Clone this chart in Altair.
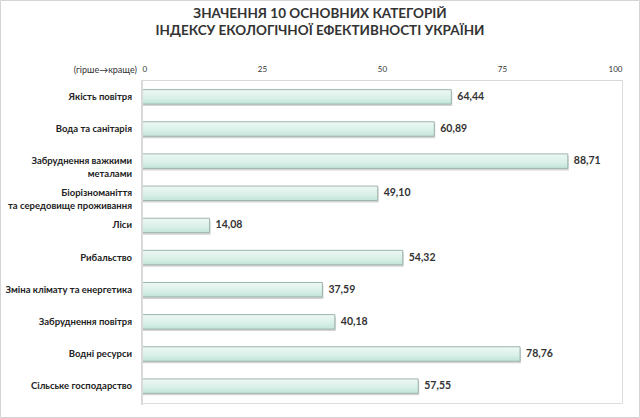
import altair as alt
import pandas as pd

categories = [
    "Якість повітря",
    "Вода та санітарія",
    "Забруднення важкими металами",
    "Біорізноманіття та середовище проживання",
    "Ліси",
    "Рибальство",
    "Зміна клімату та енергетика",
    "Забруднення повітря",
    "Водні ресурси",
    "Сільське господарство",
]
label_lines = [
    ["Якість повітря"],
    ["Вода та санітарія"],
    ["Забруднення важкими", "металами"],
    ["Біорізноманіття", "та середовище проживання"],
    ["Ліси"],
    ["Рибальство"],
    ["Зміна клімату та енергетика"],
    ["Забруднення повітря"],
    ["Водні ресурси"],
    ["Сільське господарство"],
]
values = [64.44, 60.89, 88.71, 49.10, 14.08, 54.32, 37.59, 40.18, 78.76, 57.55]
tick_values = [0, 25, 50, 75, 100]
title_lines = ["ЗНАЧЕННЯ 10 ОСНОВНИХ КАТЕГОРІЙ", "ІНДЕКСУ ЕКОЛОГІЧНОЇ ЕФЕКТИВНОСТІ УКРАЇНИ"]

df = pd.DataFrame({
    "cat": categories,
    "val": values,
    "lbl": [f"{v:.2f}".replace(".", ",") for v in values],
    "lines": label_lines,
})

FONT = "Lato"

x_axis = alt.Axis(
    orient="top", values=tick_values, ticks=False, grid=False,
    domain=True, domainColor="#d9d9d9", labelFont=FONT,
    labelFontSize=8, labelColor="#333333", labelPadding=7,
    title=None,
)
x_scale = alt.Scale(domain=[0, 100], nice=False)
x_enc = alt.X("val:Q", scale=x_scale, axis=x_axis)

y_enc = alt.Y(
    "cat:N",
    sort=categories,
    scale=alt.Scale(paddingInner=0.55, paddingOuter=0.3),
    axis=None,
)

grad = alt.Gradient(
    gradient="linear",
    x1=0, x2=0, y1=0, y2=1,
    stops=[
        alt.GradientStop(color="#eef8f4", offset=0),
        alt.GradientStop(color="#d8f0e7", offset=0.6),
        alt.GradientStop(color="#c3e4d8", offset=1),
    ],
)

shadow = alt.Chart(df).mark_bar(
    fill="#d4d4d4", yOffset=2, xOffset=1
).encode(x=x_enc, y=y_enc)

bars = alt.Chart(df).mark_bar(
    fill=grad, stroke="#9db5ad", strokeWidth=1
).encode(x=x_enc, y=y_enc)

val_text = alt.Chart(df).mark_text(
    align="left", baseline="middle", dx=6, fontSize=10.5,
    fontWeight="bold", font=FONT, color="#333333",
).encode(x=x_enc, y=y_enc, text="lbl:N")

cat_text = alt.Chart(df).mark_text(
    align="right", baseline="middle", fontSize=9.5, fontWeight="bold",
    font=FONT, color="#222222", lineHeight=13,
).encode(x=alt.value(-10), y=y_enc, text="lines")

left_axis = alt.Chart(df).mark_rule(color="#d9d9d9").encode(
    x=alt.value(0), y=alt.value(0), y2=alt.value(325)
)

dir_text = alt.Chart(pd.DataFrame({"t": ["(гірше→краще)"]})).mark_text(
    align="right", baseline="middle", fontSize=9, font=FONT, color="#333333",
).encode(x=alt.value(-5), y=alt.value(-10), text="t:N")

title1 = alt.Chart(pd.DataFrame({"t": [title_lines[0]]})).mark_text(
    align="center", baseline="middle", fontSize=13.5, fontWeight="bold",
    font=FONT, color="#333333",
).encode(x=alt.value(178), y=alt.value(-66), text="t:N")

title2 = alt.Chart(pd.DataFrame({"t": [title_lines[1]]})).mark_text(
    align="center", baseline="middle", fontSize=13.5, fontWeight="bold",
    font=FONT, color="#333333",
).encode(x=alt.value(178), y=alt.value(-49), text="t:N")

frame_df = pd.DataFrame({"a": [0]})
frame_top = alt.Chart(frame_df).mark_rule(color="#d4d4d4").encode(
    x=alt.value(-141.5), x2=alt.value(497.5), y=alt.value(-79.5))
frame_bottom = alt.Chart(frame_df).mark_rule(color="#d4d4d4").encode(
    x=alt.value(-141.5), x2=alt.value(497.5), y=alt.value(337.5))
frame_left = alt.Chart(frame_df).mark_rule(color="#d4d4d4").encode(
    x=alt.value(-141.5), y=alt.value(-79.5), y2=alt.value(337.5))
frame_right = alt.Chart(frame_df).mark_rule(color="#d4d4d4").encode(
    x=alt.value(497.5), y=alt.value(-79.5), y2=alt.value(337.5))

chart = alt.layer(
    shadow, bars, left_axis, val_text, cat_text, dir_text, title1, title2,
    frame_top, frame_bottom, frame_left, frame_right,
).properties(
    width=480,
    height=323,
    autosize=alt.AutoSizeParams(type="none"),
    padding={"left": 142, "top": 80, "right": 18, "bottom": 15},
).configure_view(stroke=None).configure(background="white")

chart.save("out.html", embed_options={"renderer": "svg", "actions": False})
